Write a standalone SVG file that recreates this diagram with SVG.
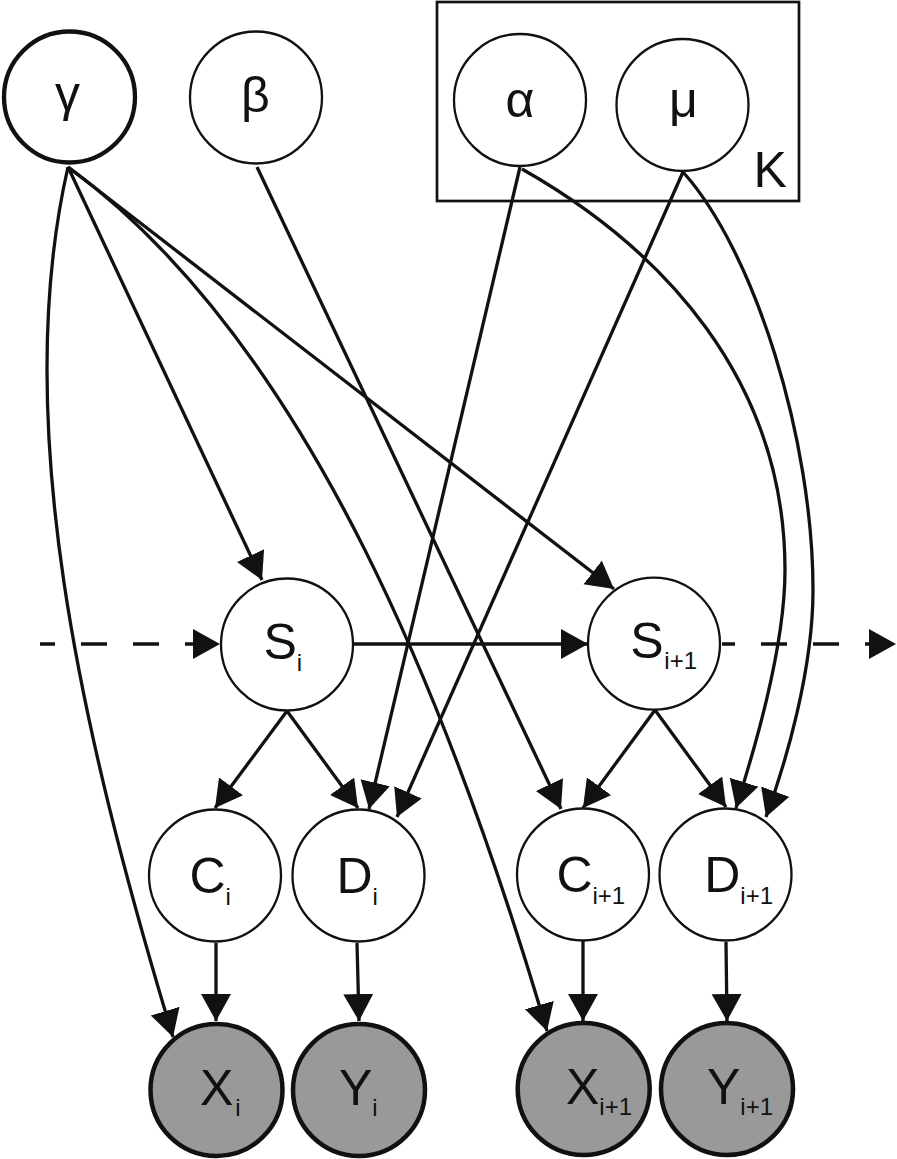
<svg xmlns="http://www.w3.org/2000/svg" width="897" height="1159" viewBox="0 0 897 1159">
<style>
.edge{fill:none;stroke:#111;stroke-width:3.3;marker-end:url(#ah)}
.dash{stroke-dasharray:26 26}
.nd{fill:#fff;stroke:#111;stroke-width:2.3}
.obs{fill:#999;stroke:#111;stroke-width:4.5}
.lbl{font-family:"Liberation Sans",Arial,sans-serif;font-size:50px;fill:#111}
.sub{font-size:24px}
.mid{text-anchor:middle}
</style>
<defs>
<marker id="ah" markerUnits="userSpaceOnUse" markerWidth="28" markerHeight="31" refX="27" refY="15" orient="auto">
<path d="M0,0 L27,15 L0,30 z" fill="#111"/>
</marker>
</defs>
<rect id="plate-K" x="437" y="2" width="362" height="199" fill="none" stroke="#111" stroke-width="2.7"/>
<g id="connectors">
<path class="edge" d="M68,167 C10,420 80,730 173,1037"/>
<path class="edge" d="M68,167 L262,580"/>
<path class="edge" d="M68,167 C312,345 455,720 547,1031"/>
<path class="edge" d="M68,167 L614,589"/>
<path class="edge" d="M257,167 L561,809"/>
<path class="edge" d="M520,167 L369,809"/>
<path class="edge" d="M522,169 C663,249 785,380 785,570 C785,650 752,757 736,808"/>
<path class="edge" d="M683,172 L397,817"/>
<path class="edge" d="M683,172 C755,252 813,440 813,590 C813,670 786,762 766,817"/>
<path class="edge" d="M287,711 L215,808"/>
<path class="edge" d="M287,711 L358,808"/>
<path class="edge" d="M655,710 L583,808"/>
<path class="edge" d="M655,710 L726,807"/>
<path class="edge" d="M354,644 L588,644"/>
<path class="edge dash" stroke-dashoffset="11" d="M40,644 L220,644"/>
<path class="edge dash" stroke-dashoffset="13" d="M722,644 L896,644"/>
<path class="edge" d="M216,943 L216,1021"/>
<path class="edge" d="M357,943 L359,1021"/>
<path class="edge" d="M583,941 L583,1021"/>
<path class="edge" d="M726,942 L727,1021"/>
</g>
<g id="gamma"><circle cx="69.5" cy="97" r="65.5" fill="#fff" stroke="#111" stroke-width="4.3"/><text class="lbl mid" x="67.5" y="111">γ</text></g>
<g id="beta"><circle class="nd" cx="256" cy="97.5" r="66"/><text class="lbl mid" x="255.5" y="112">β</text></g>
<g id="alpha"><circle class="nd" cx="520" cy="100" r="66"/><text class="lbl mid" x="520" y="117">α</text></g>
<g id="mu"><circle class="nd" cx="682.5" cy="105" r="66"/><text class="lbl mid" x="683.3" y="117">μ</text></g>
<text id="K" class="lbl" x="753.5" y="187">K</text>
<g id="S_i"><circle class="nd" cx="287" cy="644.5" r="66"/><text class="lbl" x="263.5" y="659">S<tspan class="sub" dy="12">i</tspan></text></g>
<g id="S_i1"><circle class="nd" cx="654" cy="643.7" r="66"/><text class="lbl" x="630.3" y="658">S<tspan class="sub" dx="0.7" dy="11">i+1</tspan></text></g>
<g id="C_i"><circle class="nd" cx="215" cy="875.5" r="66"/><text class="lbl" x="189.5" y="893">C<tspan class="sub" dy="12">i</tspan></text></g>
<g id="D_i"><circle class="nd" cx="358.5" cy="875.5" r="66"/><text class="lbl" x="336.5" y="893">D<tspan class="sub" dy="12">i</tspan></text></g>
<g id="C_i1"><circle class="nd" cx="583" cy="874.5" r="66"/><text class="lbl" x="556.4" y="892">C<tspan class="sub" dy="11.5">i+1</tspan></text></g>
<g id="D_i1"><circle class="nd" cx="725.5" cy="874.5" r="66"/><text class="lbl" x="704.2" y="892">D<tspan class="sub" dy="11.5">i+1</tspan></text></g>
<g id="X_i"><circle class="obs" cx="216.5" cy="1090" r="66"/><text class="lbl" x="200" y="1105">X<tspan class="sub" dx="2" dy="11">i</tspan></text></g>
<g id="Y_i"><circle class="obs" cx="359" cy="1090" r="66"/><text class="lbl" x="339" y="1105">Y<tspan class="sub" dy="11">i</tspan></text></g>
<g id="X_i1"><circle class="obs" cx="583.7" cy="1089" r="66"/><text class="lbl" x="566" y="1104">X<tspan class="sub" dy="11">i+1</tspan></text></g>
<g id="Y_i1"><circle class="obs" cx="727" cy="1089" r="66"/><text class="lbl" x="707" y="1104">Y<tspan class="sub" dy="11">i+1</tspan></text></g>
</svg>
